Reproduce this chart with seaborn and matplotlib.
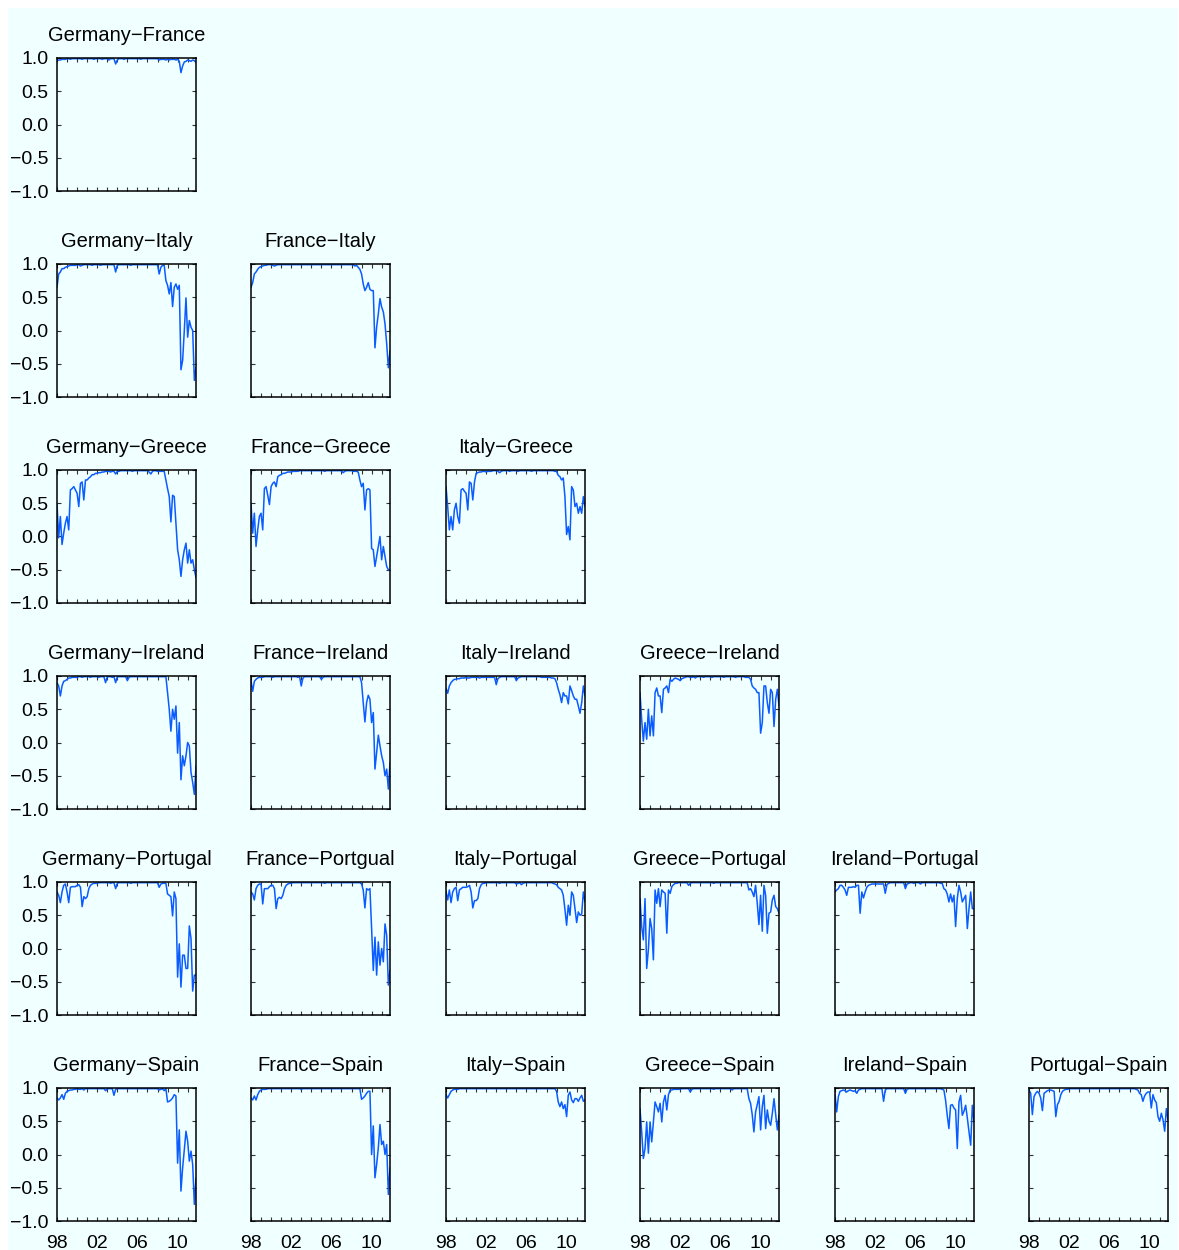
import matplotlib

matplotlib.use("Agg")
import matplotlib.pyplot as plt
import numpy as np
import seaborn as sns

# bimonthly observations, Jan 1998 .. Nov 2011 (decimal years)
dates = 1998 + np.arange(84) / 6

# rolling correlations (12 values = 2 years per row)
ger_fra = [
    0.96, 0.97, 0.97, 0.98, 0.98, 0.98, 0.99, 0.99, 0.98, 0.99, 0.99, 0.99,
    0.99, 0.99, 0.99, 0.98, 0.99, 0.99, 0.99, 0.99, 0.99, 0.99, 0.98, 0.99,
    0.99, 0.99, 0.99, 0.98, 0.99, 0.99, 0.99, 0.97, 0.99, 0.99, 0.99, 0.91,
    0.97, 0.99, 0.99, 0.99, 0.98, 0.99, 0.99, 0.99, 0.99, 0.99, 0.99, 0.99,
    0.99, 0.99, 0.98, 0.99, 0.99, 0.99, 0.99, 0.99, 0.99, 0.99, 0.99, 0.99,
    0.99, 0.97, 0.98, 0.98, 0.98, 0.97, 0.98, 0.97, 0.98, 0.98, 0.98, 0.97,
    0.98, 0.95, 0.78, 0.88, 0.94, 0.95, 0.97, 0.96, 0.95, 0.97, 0.96, 0.93,
]
ger_ita = [
    0.65, 0.85, 0.88, 0.93, 0.93, 0.95, 0.96, 0.97, 0.98, 0.98, 0.98, 0.98,
    0.99, 0.99, 0.97, 0.98, 0.99, 0.99, 0.99, 0.99, 0.99, 0.98, 0.99, 0.99,
    0.99, 0.99, 0.98, 0.99, 0.99, 0.99, 0.99, 0.99, 0.99, 0.99, 0.99, 0.88,
    0.98, 0.99, 0.99, 0.99, 0.99, 0.99, 0.99, 0.99, 0.98, 0.99, 0.99, 0.99,
    0.99, 0.99, 0.99, 0.99, 0.99, 0.99, 0.99, 0.99, 0.99, 0.99, 0.99, 0.99,
    0.99, 0.85, 0.95, 0.98, 0.98, 0.75, 0.68, 0.55, 0.72, 0.36, 0.65, 0.70,
    0.62, 0.68, -0.59, -0.45, 0.00, 0.49, -0.10, 0.15, 0.05, 0.00, -0.75, -0.55,
]
fra_ita = [
    0.65, 0.72, 0.85, 0.88, 0.92, 0.95, 0.96, 0.97, 0.98, 0.98, 0.99, 0.99,
    0.99, 0.98, 0.97, 0.98, 0.99, 0.99, 0.99, 0.99, 0.99, 0.99, 0.99, 0.99,
    0.99, 0.99, 0.99, 0.99, 0.99, 0.99, 0.99, 0.99, 0.99, 0.99, 0.99, 0.99,
    0.99, 0.99, 0.99, 0.99, 0.99, 0.99, 0.99, 0.99, 0.99, 0.99, 0.99, 0.99,
    0.99, 0.99, 0.99, 0.99, 0.99, 0.99, 0.99, 0.99, 0.99, 0.99, 0.99, 0.99,
    0.99, 0.99, 0.97, 0.98, 0.95, 0.92, 0.85, 0.70, 0.60, 0.65, 0.72, 0.62,
    0.60, 0.60, -0.26, 0.05, 0.25, 0.48, 0.35, 0.28, 0.10, -0.20, -0.56, -0.30,
]
ger_gre = [
    0.50, -0.02, 0.30, -0.12, 0.05, 0.20, 0.30, 0.10, 0.70, 0.72, 0.75, 0.70,
    0.65, 0.45, 0.80, 0.82, 0.55, 0.85, 0.85, 0.88, 0.90, 0.93, 0.93, 0.95,
    0.95, 0.96, 0.96, 0.97, 0.97, 0.98, 0.98, 0.98, 0.97, 0.98, 0.98, 0.94,
    0.98, 0.98, 0.99, 0.99, 0.99, 0.99, 0.99, 0.99, 0.99, 0.98, 0.99, 0.99,
    0.99, 0.99, 0.99, 0.99, 0.99, 0.99, 0.99, 0.97, 0.94, 0.98, 0.99, 0.99,
    0.98, 0.98, 0.98, 0.98, 0.98, 0.85, 0.72, 0.60, 0.22, 0.62, 0.60, 0.20,
    -0.20, -0.35, -0.60, -0.35, -0.20, -0.10, -0.40, -0.20, -0.40, -0.35, -0.50, -0.62,
]
fra_gre = [
    0.50, 0.05, 0.35, -0.15, 0.10, 0.30, 0.35, 0.10, 0.72, 0.75, 0.62, 0.48,
    0.75, 0.80, 0.82, 0.75, 0.90, 0.92, 0.93, 0.95, 0.95, 0.96, 0.97, 0.97,
    0.97, 0.98, 0.98, 0.98, 0.98, 0.99, 0.99, 0.99, 0.99, 0.99, 0.99, 0.99,
    0.99, 0.99, 0.99, 0.99, 0.99, 0.99, 0.99, 0.99, 0.98, 0.99, 0.99, 0.99,
    0.99, 0.99, 0.99, 0.99, 0.99, 0.99, 0.99, 0.96, 0.98, 0.99, 0.99, 0.99,
    0.99, 0.98, 0.98, 0.98, 0.97, 0.85, 0.75, 0.80, 0.40, 0.70, 0.72, 0.70,
    -0.18, -0.20, -0.45, -0.30, -0.15, 0.00, -0.35, -0.15, -0.30, -0.45, -0.50, -0.50,
]
ita_gre = [
    0.75, 0.45, 0.10, 0.30, 0.10, 0.40, 0.50, 0.30, 0.20, 0.70, 0.72, 0.68,
    0.65, 0.40, 0.82, 0.80, 0.55, 0.82, 0.95, 0.96, 0.97, 0.97, 0.98, 0.98,
    0.97, 0.98, 0.98, 0.98, 0.99, 0.99, 0.99, 0.98, 0.96, 0.98, 0.99, 0.99,
    0.99, 0.99, 0.98, 0.99, 0.99, 0.99, 0.99, 0.98, 0.99, 0.99, 0.99, 0.99,
    0.99, 0.99, 0.99, 0.98, 0.99, 0.99, 0.99, 0.99, 0.99, 0.99, 0.99, 0.99,
    0.99, 0.99, 0.99, 0.99, 0.99, 0.98, 0.98, 0.92, 0.90, 0.85, 0.88, 0.60,
    0.03, 0.15, -0.05, 0.75, 0.70, 0.45, 0.50, 0.35, 0.45, 0.35, 0.60, 0.45,
]
ger_ire = [
    0.90, 0.85, 0.70, 0.85, 0.92, 0.93, 0.95, 0.97, 0.97, 0.98, 0.98, 0.98,
    0.98, 0.99, 0.99, 0.98, 0.99, 0.99, 0.99, 0.99, 0.98, 0.99, 0.99, 0.99,
    0.99, 0.98, 0.99, 0.99, 0.99, 0.90, 0.99, 0.99, 0.99, 0.98, 0.99, 0.90,
    0.99, 0.99, 0.99, 0.99, 0.99, 0.99, 0.93, 0.98, 0.99, 0.99, 0.99, 0.99,
    0.99, 0.99, 0.99, 0.99, 0.99, 0.99, 0.99, 0.99, 0.99, 0.99, 0.99, 0.99,
    0.99, 0.99, 0.99, 0.99, 0.99, 0.99, 0.75, 0.50, 0.17, 0.50, 0.35, 0.55,
    -0.16, 0.30, -0.56, -0.20, -0.35, -0.20, 0.00, -0.05, -0.45, -0.60, -0.78, -0.35,
]
fra_ire = [
    0.93, 0.77, 0.92, 0.95, 0.97, 0.98, 0.98, 0.98, 0.99, 0.99, 0.99, 0.99,
    0.99, 0.98, 0.99, 0.99, 0.99, 0.99, 0.99, 0.99, 0.99, 0.99, 0.99, 0.99,
    0.99, 0.99, 0.99, 0.99, 0.98, 0.99, 0.85, 0.97, 0.99, 0.99, 0.99, 0.99,
    0.99, 0.99, 0.99, 0.99, 0.99, 0.99, 0.95, 0.98, 0.99, 0.99, 0.99, 0.99,
    0.99, 0.99, 0.99, 0.99, 0.99, 0.99, 0.99, 0.99, 0.99, 0.99, 0.99, 0.99,
    0.99, 0.99, 0.99, 0.99, 0.99, 0.99, 0.90, 0.60, 0.31, 0.60, 0.71, 0.65,
    0.30, 0.45, -0.40, -0.15, 0.11, -0.05, -0.20, -0.30, -0.50, -0.40, -0.70, -0.30,
]
ita_ire = [
    0.82, 0.74, 0.85, 0.90, 0.93, 0.95, 0.95, 0.96, 0.96, 0.97, 0.97, 0.97,
    0.98, 0.97, 0.97, 0.98, 0.98, 0.98, 0.98, 0.98, 0.97, 0.98, 0.98, 0.98,
    0.98, 0.98, 0.98, 0.98, 0.98, 0.98, 0.87, 0.96, 0.98, 0.99, 0.99, 0.99,
    0.99, 0.99, 0.99, 0.99, 0.99, 0.99, 0.93, 0.97, 0.98, 0.99, 0.99, 0.99,
    0.99, 0.99, 0.99, 0.99, 0.99, 0.99, 0.99, 0.99, 0.99, 0.98, 0.98, 0.98,
    0.98, 0.98, 0.98, 0.97, 0.97, 0.96, 0.90, 0.80, 0.72, 0.60, 0.75, 0.70,
    0.70, 0.58, 0.85, 0.78, 0.70, 0.65, 0.65, 0.55, 0.44, 0.60, 0.85, 0.70,
]
gre_ire = [
    0.75, 0.34, 0.02, 0.30, 0.05, 0.50, 0.10, 0.40, 0.10, 0.75, 0.82, 0.70,
    0.70, 0.45, 0.80, 0.82, 0.85, 0.75, 0.95, 0.92, 0.95, 0.97, 0.96, 0.95,
    0.93, 0.96, 0.97, 0.98, 0.99, 0.99, 0.98, 0.98, 0.99, 0.97, 0.99, 0.99,
    0.99, 0.99, 0.98, 0.99, 0.99, 0.99, 0.99, 0.98, 0.99, 0.99, 0.99, 0.99,
    0.99, 0.99, 0.98, 0.99, 0.99, 0.99, 0.99, 0.99, 0.99, 0.98, 0.99, 0.99,
    0.99, 0.99, 0.99, 0.98, 0.98, 0.98, 0.95, 0.85, 0.82, 0.80, 0.75, 0.75,
    0.14, 0.30, 0.85, 0.85, 0.60, 0.44, 0.80, 0.75, 0.24, 0.65, 0.80, 0.55,
]
ger_por = [
    0.85, 0.80, 0.69, 0.85, 0.95, 0.97, 0.85, 0.69, 0.92, 0.93, 0.93, 0.93,
    0.95, 0.96, 0.92, 0.63, 0.78, 0.75, 0.78, 0.90, 0.95, 0.97, 0.98, 0.98,
    0.98, 0.99, 0.99, 0.99, 0.99, 0.99, 0.99, 0.99, 0.98, 0.99, 0.99, 0.90,
    0.98, 0.99, 0.99, 0.99, 0.99, 0.99, 0.99, 0.99, 0.98, 0.99, 0.99, 0.99,
    0.99, 0.99, 0.99, 0.99, 0.99, 0.99, 0.99, 0.99, 0.99, 0.99, 0.99, 0.99,
    0.99, 0.92, 0.97, 0.98, 0.98, 0.98, 0.82, 0.80, 0.78, 0.49, 0.85, 0.75,
    -0.43, 0.07, -0.58, -0.10, -0.10, -0.30, -0.30, 0.34, 0.15, -0.64, -0.40, -0.40,
]
fra_por = [
    0.85, 0.82, 0.73, 0.90, 0.95, 0.97, 0.97, 0.67, 0.90, 0.90, 0.90, 0.93,
    0.95, 0.95, 0.90, 0.60, 0.75, 0.77, 0.75, 0.80, 0.90, 0.95, 0.97, 0.98,
    0.98, 0.99, 0.99, 0.99, 0.99, 0.99, 0.99, 0.99, 0.99, 0.99, 0.99, 0.99,
    0.99, 0.99, 0.99, 0.99, 0.99, 0.99, 0.99, 0.99, 0.98, 0.99, 0.99, 0.99,
    0.99, 0.99, 0.99, 0.99, 0.99, 0.99, 0.99, 0.99, 0.99, 0.99, 0.99, 0.99,
    0.99, 0.99, 0.99, 0.99, 0.99, 0.99, 0.97, 0.88, 0.61, 0.90, 0.88, 0.90,
    0.30, -0.33, 0.17, -0.40, 0.10, -0.25, 0.00, -0.20, 0.37, 0.20, -0.55, -0.33,
]
ita_por = [
    0.86, 0.73, 0.88, 0.69, 0.85, 0.90, 0.92, 0.72, 0.88, 0.90, 0.92, 0.92,
    0.92, 0.93, 0.95, 0.85, 0.61, 0.72, 0.72, 0.75, 0.90, 0.96, 0.98, 0.98,
    0.99, 0.99, 0.99, 0.99, 0.99, 0.99, 0.99, 0.99, 0.98, 0.99, 0.99, 0.99,
    0.99, 0.99, 0.99, 0.99, 0.99, 0.99, 0.97, 0.98, 0.99, 0.96, 0.98, 0.99,
    0.99, 0.99, 0.99, 0.99, 0.99, 0.99, 0.99, 0.99, 0.99, 0.99, 0.99, 0.99,
    0.99, 0.99, 0.99, 0.99, 0.98, 0.97, 0.96, 0.92, 0.90, 0.88, 0.80, 0.59,
    0.35, 0.65, 0.50, 0.85, 0.80, 0.60, 0.39, 0.55, 0.50, 0.52, 0.85, 0.70,
]
gre_por = [
    0.75, 0.33, 0.13, 0.75, -0.30, -0.02, 0.45, 0.30, -0.17, 0.88, 0.68, 0.90,
    0.63, 0.88, 0.85, 0.83, 0.23, 0.88, 0.83, 0.93, 0.96, 0.98, 0.98, 0.99,
    0.99, 0.99, 0.99, 0.99, 0.99, 0.95, 0.98, 0.99, 0.99, 0.99, 0.99, 0.99,
    0.99, 0.99, 0.99, 0.99, 0.99, 0.99, 0.99, 0.99, 0.98, 0.99, 0.99, 0.99,
    0.99, 0.99, 0.99, 0.99, 0.99, 0.99, 0.99, 0.99, 0.99, 0.99, 0.99, 0.99,
    0.99, 0.99, 0.99, 0.99, 0.99, 0.88, 0.90, 0.85, 0.78, 0.95, 0.68, 0.36,
    0.80, 0.26, 0.95, 0.80, 0.23, 0.53, 0.55, 0.73, 0.80, 0.63, 0.60, 0.53,
]
ire_por = [
    0.85, 0.88, 0.90, 0.95, 0.95, 0.92, 0.88, 0.80, 0.92, 0.92, 0.92, 0.93,
    0.92, 0.95, 0.95, 0.53, 0.85, 0.76, 0.85, 0.92, 0.95, 0.96, 0.97, 0.97,
    0.97, 0.97, 0.97, 0.97, 0.97, 0.97, 0.83, 0.96, 0.98, 0.99, 0.99, 0.99,
    0.99, 0.99, 0.99, 0.99, 0.99, 0.99, 0.90, 0.97, 0.98, 0.99, 0.99, 0.98,
    0.99, 0.99, 0.99, 0.97, 0.99, 0.99, 0.99, 0.99, 0.99, 0.99, 0.99, 0.99,
    0.99, 0.99, 0.99, 0.98, 0.98, 0.90, 0.88, 0.82, 0.70, 0.82, 0.70, 0.80,
    0.33, 0.75, 0.95, 0.85, 0.70, 0.75, 0.80, 0.30, 0.60, 0.85, 0.60, 0.60,
]
ger_spa = [
    0.85, 0.82, 0.85, 0.90, 0.83, 0.92, 0.95, 0.96, 0.97, 0.97, 0.98, 0.98,
    0.99, 0.98, 0.98, 0.99, 0.97, 0.99, 0.99, 0.99, 0.99, 0.99, 0.99, 0.99,
    0.99, 0.99, 0.99, 0.99, 0.99, 0.96, 0.99, 0.99, 0.99, 0.99, 0.89, 0.98,
    0.99, 0.99, 0.99, 0.99, 0.99, 0.99, 0.99, 0.99, 0.99, 0.99, 0.99, 0.99,
    0.99, 0.99, 0.99, 0.99, 0.99, 0.99, 0.99, 0.99, 0.99, 0.99, 0.99, 0.99,
    0.99, 0.97, 0.98, 0.99, 0.96, 0.99, 0.79, 0.80, 0.82, 0.85, 0.90, 0.88,
    -0.13, 0.37, -0.55, -0.20, 0.07, 0.35, 0.20, -0.10, 0.05, -0.15, -0.75, -0.35,
]
fra_spa = [
    0.85, 0.82, 0.88, 0.82, 0.90, 0.95, 0.97, 0.98, 0.98, 0.98, 0.99, 0.99,
    0.99, 0.99, 0.99, 0.99, 0.99, 0.99, 0.99, 0.99, 0.99, 0.99, 0.99, 0.99,
    0.99, 0.99, 0.99, 0.99, 0.99, 0.99, 0.98, 0.99, 0.99, 0.99, 0.99, 0.99,
    0.99, 0.99, 0.99, 0.99, 0.99, 0.99, 0.99, 0.99, 0.99, 0.99, 0.99, 0.99,
    0.99, 0.99, 0.99, 0.99, 0.99, 0.99, 0.99, 0.99, 0.99, 0.99, 0.99, 0.99,
    0.99, 0.99, 0.99, 0.99, 0.99, 0.99, 0.83, 0.85, 0.88, 0.92, 0.95, 0.95,
    0.00, 0.43, -0.35, -0.15, 0.10, 0.45, 0.15, 0.20, 0.00, 0.15, -0.60, -0.20,
]
ita_spa = [
    0.90, 0.85, 0.90, 0.95, 0.97, 0.98, 0.98, 0.98, 0.99, 0.99, 0.99, 0.99,
    0.99, 0.99, 0.99, 0.99, 0.99, 0.99, 0.99, 0.99, 0.99, 0.99, 0.99, 0.99,
    0.99, 0.99, 0.99, 0.99, 0.99, 0.99, 0.99, 0.99, 0.99, 0.99, 0.99, 0.99,
    0.99, 0.99, 0.99, 0.99, 0.99, 0.99, 0.99, 0.99, 0.99, 0.99, 0.99, 0.99,
    0.99, 0.99, 0.99, 0.99, 0.99, 0.99, 0.99, 0.99, 0.99, 0.99, 0.99, 0.99,
    0.99, 0.99, 0.99, 0.99, 0.99, 0.99, 0.95, 0.79, 0.72, 0.79, 0.69, 0.75,
    0.57, 0.89, 0.94, 0.82, 0.78, 0.84, 0.84, 0.80, 0.85, 0.89, 0.80, 0.82,
]
gre_spa = [
    0.69, 0.34, -0.06, 0.09, 0.49, 0.02, 0.49, 0.19, 0.49, 0.79, 0.72, 0.64,
    0.77, 0.49, 0.79, 0.89, 0.67, 0.90, 0.97, 0.97, 0.98, 0.98, 0.98, 0.98,
    0.98, 0.99, 0.99, 0.99, 0.99, 0.99, 0.94, 0.98, 0.99, 0.99, 0.99, 0.99,
    0.99, 0.99, 0.99, 0.99, 0.99, 0.99, 0.99, 0.99, 0.98, 0.99, 0.99, 0.99,
    0.99, 0.99, 0.99, 0.99, 0.99, 0.99, 0.99, 0.97, 0.99, 0.99, 0.99, 0.99,
    0.99, 0.99, 0.99, 0.99, 0.99, 0.84, 0.77, 0.60, 0.34, 0.64, 0.75, 0.87,
    0.37, 0.72, 0.89, 0.39, 0.67, 0.50, 0.44, 0.62, 0.84, 0.60, 0.37, 0.59,
]
ire_spa = [
    0.91, 0.64, 0.87, 0.95, 0.96, 0.97, 0.96, 0.94, 0.96, 0.97, 0.96, 0.95,
    0.96, 0.92, 0.97, 0.98, 0.99, 0.99, 0.99, 0.99, 0.99, 0.99, 0.99, 0.99,
    0.99, 0.99, 0.99, 0.99, 0.99, 0.80, 0.97, 0.99, 0.99, 0.99, 0.99, 0.99,
    0.99, 0.99, 0.99, 0.99, 0.99, 0.99, 0.92, 0.98, 0.99, 0.99, 0.99, 0.99,
    0.99, 0.99, 0.99, 0.99, 0.99, 0.99, 0.99, 0.99, 0.99, 0.99, 0.99, 0.99,
    0.99, 0.99, 0.99, 0.99, 0.98, 0.97, 0.82, 0.59, 0.39, 0.74, 0.75, 0.70,
    0.67, 0.09, 0.79, 0.89, 0.59, 0.65, 0.74, 0.55, 0.34, 0.14, 0.74, 0.49,
]
por_spa = [
    0.97, 0.92, 0.60, 0.87, 0.92, 0.95, 0.92, 0.85, 0.66, 0.92, 0.94, 0.96,
    0.97, 0.97, 0.96, 0.95, 0.57, 0.75, 0.80, 0.90, 0.95, 0.97, 0.98, 0.98,
    0.99, 0.99, 0.99, 0.99, 0.99, 0.99, 0.99, 0.99, 0.99, 0.99, 0.99, 0.99,
    0.99, 0.99, 0.99, 0.99, 0.99, 0.99, 0.99, 0.99, 0.99, 0.99, 0.99, 0.99,
    0.99, 0.99, 0.99, 0.99, 0.99, 0.99, 0.99, 0.99, 0.99, 0.99, 0.99, 0.99,
    0.99, 0.99, 0.99, 0.99, 0.98, 0.97, 0.92, 0.90, 0.80, 0.88, 0.92, 0.94,
    0.94, 0.70, 0.90, 0.82, 0.78, 0.57, 0.50, 0.62, 0.52, 0.35, 0.69, 0.52,
]

# lower-triangular panel grid, row by row
panel_titles = [
    ["Germany\u2212France"],
    ["Germany\u2212Italy", "France\u2212Italy"],
    ["Germany\u2212Greece", "France\u2212Greece", "Italy\u2212Greece"],
    ["Germany\u2212Ireland", "France\u2212Ireland", "Italy\u2212Ireland", "Greece\u2212Ireland"],
    ["Germany\u2212Portugal", "France\u2212Portgual", "Italy\u2212Portugal",
     "Greece\u2212Portugal", "Ireland\u2212Portugal"],
    ["Germany\u2212Spain", "France\u2212Spain", "Italy\u2212Spain", "Greece\u2212Spain",
     "Ireland\u2212Spain", "Portugal\u2212Spain"],
]
panel_data = [
    [ger_fra],
    [ger_ita, fra_ita],
    [ger_gre, fra_gre, ita_gre],
    [ger_ire, fra_ire, ita_ire, gre_ire],
    [ger_por, fra_por, ita_por, gre_por, ire_por],
    [ger_spa, fra_spa, ita_spa, gre_spa, ire_spa, por_spa],
]
x_ticks = [1998, 2002, 2006, 2010]
x_labels = ["98", "02", "06", "10"]
y_ticks = [-1.0, -0.5, 0.0, 0.5, 1.0]
y_labels = ["\u22121.0", "\u22120.5", "0.0", "0.5", "1.0"]

sns.set_style("ticks")
plt.rcParams["font.family"] = ["Liberation Sans", "DejaVu Sans"]
plt.rcParams["text.color"] = "black"
plt.rcParams["xtick.labelcolor"] = "black"
plt.rcParams["ytick.labelcolor"] = "black"

BG = "#f0ffff"
LINE = "#0a5cff"
W, H = 1179, 1250

fig = plt.figure(figsize=(W / 100, H / 100), dpi=100)
fig.patch.set_facecolor("white")
fig.add_artist(plt.Rectangle((8 / W, 0), 1170 / W, 1242 / H, transform=fig.transFigure,
                             facecolor=BG, edgecolor="none", zorder=-10))

col_x = [57, 251, 446, 640, 835, 1029]
row_y = [58, 264, 470, 676, 882, 1088]
pw, ph = 139, 133

for r, (titles, rows) in enumerate(zip(panel_titles, panel_data)):
    for c, (title, vals) in enumerate(zip(titles, rows)):
        ax = fig.add_axes([col_x[c] / W, 1 - (row_y[r] + ph) / H, pw / W, ph / H])
        ax.set_facecolor(BG)
        sns.lineplot(x=dates, y=vals, ax=ax, color=LINE, linewidth=1.1)
        ax.set_xlim(1998, 2011.83)
        ax.set_ylim(-1, 1)
        ax.set_xticks(x_ticks)
        ax.set_xticks(range(1998, 2012), minor=True)
        ax.set_yticks(y_ticks)
        ax.set_xlabel("")
        ax.set_ylabel("")
        ax.tick_params(which="both", direction="in", top=True, right=True,
                       length=3, width=0.8, color="#333333")
        ax.tick_params(axis="y", labelsize=14, pad=6, labelcolor="black")
        ax.tick_params(axis="x", labelsize=14, pad=10, labelcolor="black")
        if r == 5:
            ax.set_xticklabels(x_labels)
        else:
            ax.tick_params(axis="x", labelbottom=False)
        if c == 0:
            ax.set_yticklabels(y_labels)
        else:
            ax.tick_params(axis="y", labelleft=False)
        for sp in ax.spines.values():
            sp.set_linewidth(1.1)
            sp.set_color("black")
        ax.set_title(title, fontsize=14.5, pad=12, color="black")

fig.savefig("out.png", dpi=100, facecolor=fig.get_facecolor())
